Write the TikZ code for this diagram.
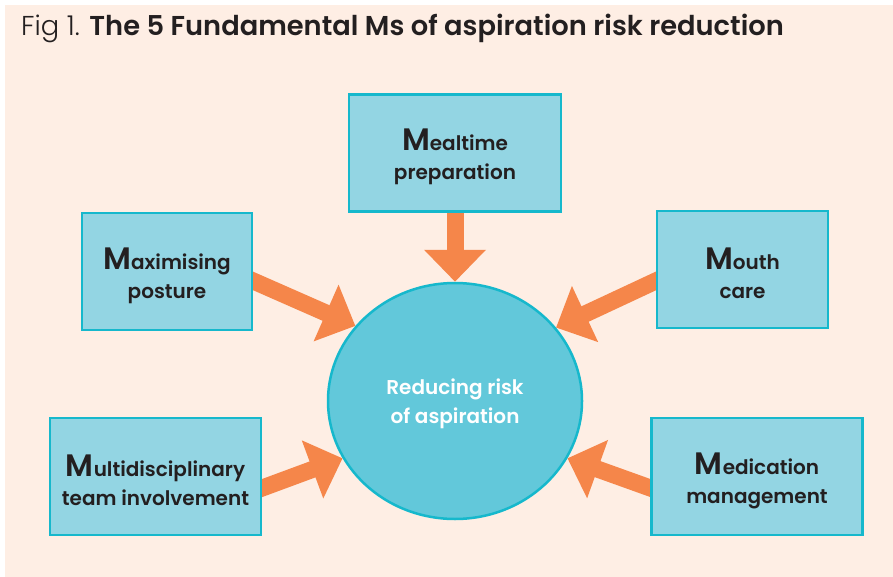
\documentclass[tikz,border=0pt]{standalone}
\usepackage{fontspec}
\setmainfont{Poppins}[Ligatures=NoCommon, BoldFont={Poppins SemiBold}]
\newfontfamily\thinfont{Poppins Light}
\usetikzlibrary{arrows.meta,calc,shapes.geometric}
\definecolor{paper}{HTML}{FEEEE4}
\definecolor{boxfill}{HTML}{93D5E3}
\definecolor{boxline}{HTML}{16B8CC}
\definecolor{hubfill}{HTML}{62C8DA}
\definecolor{arrowc}{HTML}{F5864A}
\definecolor{ink}{HTML}{231F20}
\newcommand\capM{{\fontsize{31}{29}\selectfont M}}
\pgfdeclarelayer{back}
\pgfdeclarelayer{mid}
\pgfsetlayers{back,mid,main}
\begin{document}
\begin{tikzpicture}[x=1pt,y=-1pt,
  mbox/.style={draw=boxline, line width=2.5pt, fill=boxfill,
    minimum width=#1, minimum height=117pt, inner sep=0pt},
  mtext/.style={inner sep=0pt, align=center, text=ink,
    font=\bfseries\fontsize{20}{29}\selectfont},
  hub/.style={ellipse, draw=boxline, line width=2.5pt, fill=hubfill,
    minimum width=254pt, minimum height=236pt, inner sep=0pt},
  hubtext/.style={inner sep=0pt, align=center, text=white,
    font=\bfseries\fontsize{20}{29}\selectfont},
  fat/.style={draw=arrowc, line width=17pt,
    -{Triangle[length=32pt,width=60pt]}}
]
% page and backdrop
\useasboundingbox (0,0) rectangle (893,577);
\begin{pgfonlayer}{back}
  \fill[white] (0,0) rectangle (893,577);
  \fill[paper] (5,5) rectangle (893,577);
\end{pgfonlayer}

% heading
\node[anchor=base west, inner sep=0pt, text=ink, font=\fontsize{27.3}{32}\selectfont]
  (title) at (21,36) {{\thinfont Fig 1.} \textbf{The 5 Fundamental Ms of aspiration risk reduction}};

% central goal
\node[hub] (hub) at (455,401) {};
\node[hubtext] (hubtxt) at ($(hub)+(0,3)$) {Reducing risk\\of aspiration};

% the five Ms
\node[mbox=212pt] (meal)  at (455,153)     {};
\node[mbox=170pt] (max)   at (167,271.5)   {};
\node[mbox=171pt] (mouth) at (742.5,269.5) {};
\node[mbox=211pt] (multi) at (155.5,476.5) {};
\node[mbox=211pt] (med)   at (757,476.5)   {};

\node[mtext] (mealtxt)  at ($(meal)+(0,4)$)  {\capM ealtime\\preparation};
\node[mtext] (maxtxt)   at ($(max)+(0,4)$)   {\capM aximising\\posture};
\node[mtext] (mouthtxt) at ($(mouth)+(0,4)$) {\capM outh\\care};
\node[mtext] (multitxt) at ($(multi)+(0,4)$) {\capM ultidisciplinary\\team involvement};
\node[mtext] (medtxt)   at ($(med)+(0,4)$)   {\capM edication\\management};

% arrows into the goal
\begin{pgfonlayer}{mid}
  \draw[fat] (meal.south) -- (hub.90);
  \draw[fat, shorten <=-12pt] ($(max.east)+(0,9.5)$) -- (hub.143);
  \draw[fat, shorten <=-12pt] ($(mouth.west)+(0,11.5)$) -- (hub.36);
  \draw[fat, shorten <=-12pt] ($(multi.east)+(0,11.5)$) -- (hub.207);
  \draw[fat, shorten <=-12pt] ($(med.west)+(0,11.5)$) -- (hub.333);
\end{pgfonlayer}
\end{tikzpicture}
\end{document}
